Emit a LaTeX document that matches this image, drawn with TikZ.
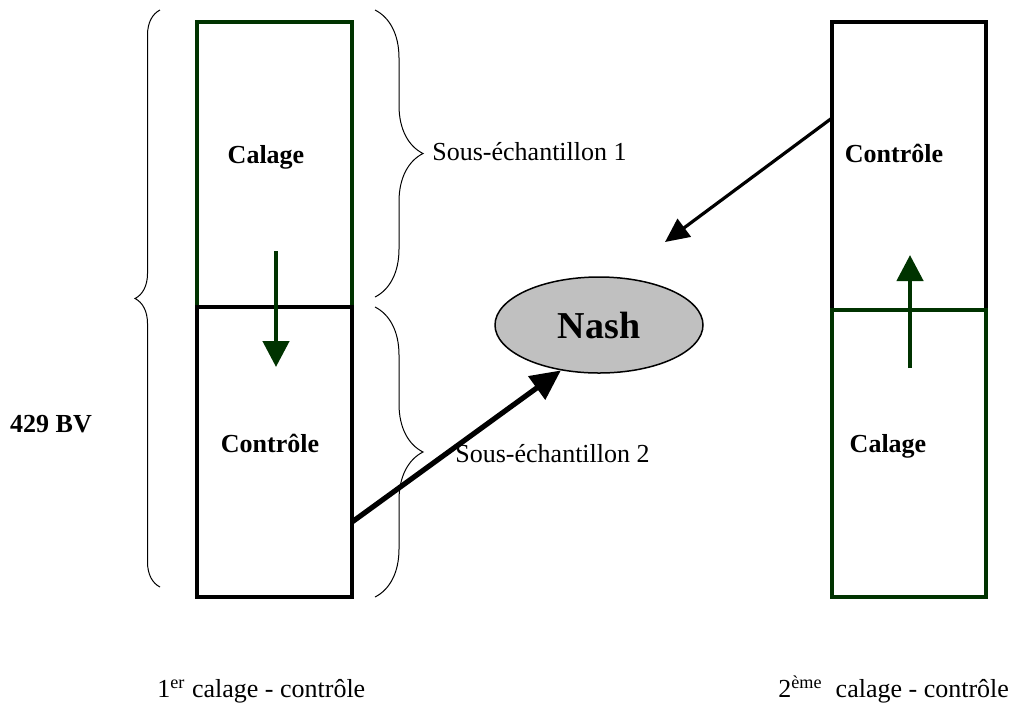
\documentclass[tikz,border=0pt]{standalone}
\usepackage{fontspec}
\setmainfont{Liberation Serif}
\usetikzlibrary{arrows.meta,shapes.geometric,decorations.pathreplacing}
\definecolor{dkgreen}{RGB}{0,51,0}
\definecolor{nashgray}{RGB}{192,192,192}

\tikzset{
  blackbox/.style={draw=black,line width=1.7pt},
  greenbox/.style={draw=dkgreen,line width=1.7pt},
  brc/.style={decorate,decoration={brace,amplitude=#1},line width=0.5pt},
  lbl/.style={inner sep=0pt,anchor=base,font=\fontsize{13}{15}\selectfont\bfseries},
  txt/.style={inner sep=0pt,anchor=base west,font=\fontsize{13}{15}\selectfont}
}

\begin{document}
\begin{tikzpicture}[x=0.5pt,y=-0.5pt]
\useasboundingbox (0,0) rectangle (1010,709);
%Shape: Rectangle
\draw [greenbox] (197,22) rectangle (352,307);
\draw [blackbox] (197,307) rectangle (352,597);
%Shape: Rectangle
\draw [blackbox] (832,22) rectangle (986,310);
\draw [greenbox] (832,310) rectangle (986,597);
%Shape: Brace
\draw [brc=12.5pt] (160,587) -- (160,10);
\draw [brc=24pt] (375,10) -- (375,297);
\draw [brc=24pt] (375,307) -- (375,597);
%Shape: Ellipse
\node [ellipse,draw,line width=0.75pt,fill=nashgray,minimum width=104pt,minimum height=48pt,inner sep=0pt,font=\fontsize{19}{22}\selectfont\bfseries] (nash) at (599,325) {Nash};
% Coordinates
\coordinate (cl-out) at (352,522);
\coordinate (cr-out) at (832,118);
\coordinate (toward-nash) at (665,242);
\coordinate (dn-a) at (276,251);
\coordinate (dn-b) at (276,367);
\coordinate (up-a) at (910,368);
\coordinate (up-b) at (910,255);
%Straight Lines
\draw [line width=2.6pt,-{Triangle[width=14pt,length=15pt]}] (cl-out) -- (nash.230);
\draw [line width=1.6pt,-{Triangle[width=11pt,length=12pt]}] (cr-out) -- (toward-nash);
\draw [dkgreen,line width=2.3pt,-{Triangle[width=13pt,length=13pt]}] (dn-a) -- (dn-b);
\draw [dkgreen,line width=2.3pt,-{Triangle[width=13pt,length=13pt]}] (up-a) -- (up-b);
% Text Node
\node [lbl] (cal-l) at (266,163) {Calage};
\node [lbl] (ctl-l) at (270,452) {Contrôle};
\node [lbl] (ctl-r) at (894,162) {Contrôle};
\node [lbl] (cal-r) at (888,452) {Calage};
\node [lbl] (nbv) at (51,432) {429 BV};
% Text Node
\node [txt] (sub1) at (432,160) {Sous-échantillon 1};
\node [txt] (sub2) at (455,462) {Sous-échantillon 2};
\node [txt] (first) at (157,697) {1\textsuperscript{er} calage - contrôle};
\node [txt] (second) at (778,697) {2\textsuperscript{ème}\ \ calage - contrôle};
\end{tikzpicture}
\end{document}
